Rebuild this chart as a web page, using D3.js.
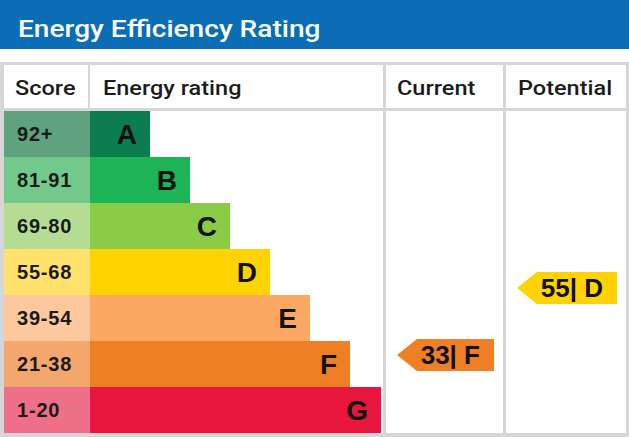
<!DOCTYPE html>
<html>
<head>
<script src="https://cdn.jsdelivr.net/npm/d3@7"></script>
<style type="text/css">
  body{
    margin: 0px;
    background: white;
  }
  .title{
    font-family: 'Roboto';
    font-weight: 500;
    font-size: 24px;
    fill: white;
  }
  .head{
    font-family: 'Roboto';
    font-weight: 500;
    font-size: 21px;
    fill: #1c1c1c;
  }
  .score{
    font-family: 'Liberation Sans';
    font-weight: bold;
    font-size: 20px;
    letter-spacing: 0.8px;
    fill: #1a1a1a;
  }
  .letter{
    font-family: 'Liberation Sans';
    font-weight: bold;
    font-size: 28px;
    fill: #111;
  }
  .arrowText{
    font-family: 'Liberation Sans';
    font-weight: bold;
    font-size: 26px;
    fill: #111;
  }
</style>
</head>
<body>
<script>

var titleText = "Energy Efficiency Rating";
var headers = ["Score", "Energy rating", "Current", "Potential"];

var ratings = ["A", "B", "C", "D", "E", "F", "G"];
var scoreLabels = ["92+", "81-91", "69-80", "55-68", "39-54", "21-38", "1-20"];
var bandMin = [92, 81, 69, 55, 39, 21, 1];
var bandMax = [100, 91, 80, 68, 54, 38, 20];
var barColors = ["#0b7d50", "#1cb456", "#8ccb45", "#ffd300", "#fca863", "#ef7f25", "#e8163c"];
var scoreColors = ["#60a17f", "#72c98b", "#b4dd93", "#ffe16b", "#fdc89d", "#f4a76d", "#ef6f8a"];

var currentScore = 33, currentRating = "F";
var potentialScore = 55, potentialRating = "D";

var W = 629, H = 437;
var gray = "#d6d6d6";

var svg = d3.select("body").append("svg")
    .attr("width", W)
    .attr("height", H);

// title band
svg.append("rect")
    .attr("x", 0).attr("y", 0)
    .attr("width", W).attr("height", 49)
    .attr("fill", "#0a6db5");

// the source lettering is a bit wider than the installed fonts
svg.append("text")
    .attr("class", "title")
    .attr("transform", "translate(18,37) scale(1.17,1)")
    .text(titleText);

// table frame
var tableTop = 62, headTop = 65, headBottom = 108, rowTop = 111, rowBottom = 433;
svg.append("rect")
    .attr("x", 0).attr("y", tableTop)
    .attr("width", W).attr("height", H - tableTop)
    .attr("fill", gray);

// column edges: [left, right]
var cols = [[4, 88], [90, 383], [386, 503], [506, 626]];
var textX = [15, 103, 397, 518];

svg.selectAll(".headCell")
    .data(cols)
  .enter().append("rect")
    .attr("x", function(d) { return d[0]; })
    .attr("y", headTop)
    .attr("width", function(d) { return d[1] - d[0]; })
    .attr("height", headBottom - headTop)
    .attr("fill", "white");

svg.selectAll(".head")
    .data(headers)
  .enter().append("text")
    .attr("class", "head")
    .attr("transform", function(d, i) { return "translate(" + textX[i] + ",95) scale(1.12,1)"; })
    .text(function(d) { return d; });

// body cells
svg.append("rect")
    .attr("x", cols[0][0]).attr("y", rowTop)
    .attr("width", cols[1][1] - cols[0][0]).attr("height", rowBottom - rowTop)
    .attr("fill", "white");
[cols[2], cols[3]].forEach(function(c) {
  svg.append("rect")
      .attr("x", c[0]).attr("y", rowTop)
      .attr("width", c[1] - c[0]).attr("height", rowBottom - rowTop)
      .attr("fill", "white");
});

var y = d3.scaleBand().domain(ratings).range([rowTop, rowBottom]);

// bar end grows ~40px per band, clipped at the column edge
var barEnd = d3.scaleLinear().domain([0, 6]).range([150, 390]);
var barRight = function(i) { return Math.min(barEnd(i), cols[1][1] - 2); };

var rows = svg.selectAll(".row")
    .data(ratings)
  .enter().append("g")
    .attr("class", "row");

rows.append("rect")
    .attr("x", cols[0][0])
    .attr("y", function(d) { return y(d); })
    .attr("width", cols[1][0] - cols[0][0])
    .attr("height", y.bandwidth())
    .attr("fill", function(d, i) { return scoreColors[i]; });

rows.append("rect")
    .attr("x", cols[1][0])
    .attr("y", function(d) { return y(d); })
    .attr("width", function(d, i) { return barRight(i) - cols[1][0]; })
    .attr("height", y.bandwidth())
    .attr("fill", function(d, i) { return barColors[i]; });

rows.append("text")
    .attr("class", "score")
    .attr("x", 17)
    .attr("y", function(d) { return y(d) + y.bandwidth() / 2 + 7; })
    .text(function(d, i) { return scoreLabels[i]; });

rows.append("text")
    .attr("class", "letter")
    .attr("text-anchor", "end")
    .attr("x", function(d, i) { return barRight(i) - 13; })
    .attr("y", function(d) { return y(d) + y.bandwidth() / 2 + 10; })
    .text(function(d) { return d; });

// score -> vertical position inside its band
function scoreY(s) {
  var i = bandMin.findIndex(function(m, k) { return s >= m && s <= bandMax[k]; });
  var top = y(ratings[i]), bw = y.bandwidth();
  var pos = d3.scaleLinear()
      .domain([bandMax[i] + 0.5, bandMin[i] - 0.5])
      .range([top, top + bw])(s);
  return Math.max(top + 7, Math.min(top + bw - 7, pos));
}

function arrow(col, s, r) {
  var i = ratings.indexOf(r);
  var cy = scoreY(s);
  var h = 32, tip = col[0] + 11, right = col[1] - 9, bodyLeft = tip + 20;
  svg.append("path")
      .attr("d", d3.line()([
        [tip, cy], [bodyLeft, cy - h / 2], [right, cy - h / 2],
        [right, cy + h / 2], [bodyLeft, cy + h / 2]
      ]) + "Z")
      .attr("fill", barColors[i]);
  svg.append("text")
      .attr("class", "arrowText")
      .attr("text-anchor", "end")
      .attr("x", right - 14)
      .attr("y", cy + 9)
      .text(s + "| " + r);
}

arrow(cols[2], currentScore, currentRating);
arrow(cols[3], potentialScore, potentialRating);

</script>
</body>
</html>
